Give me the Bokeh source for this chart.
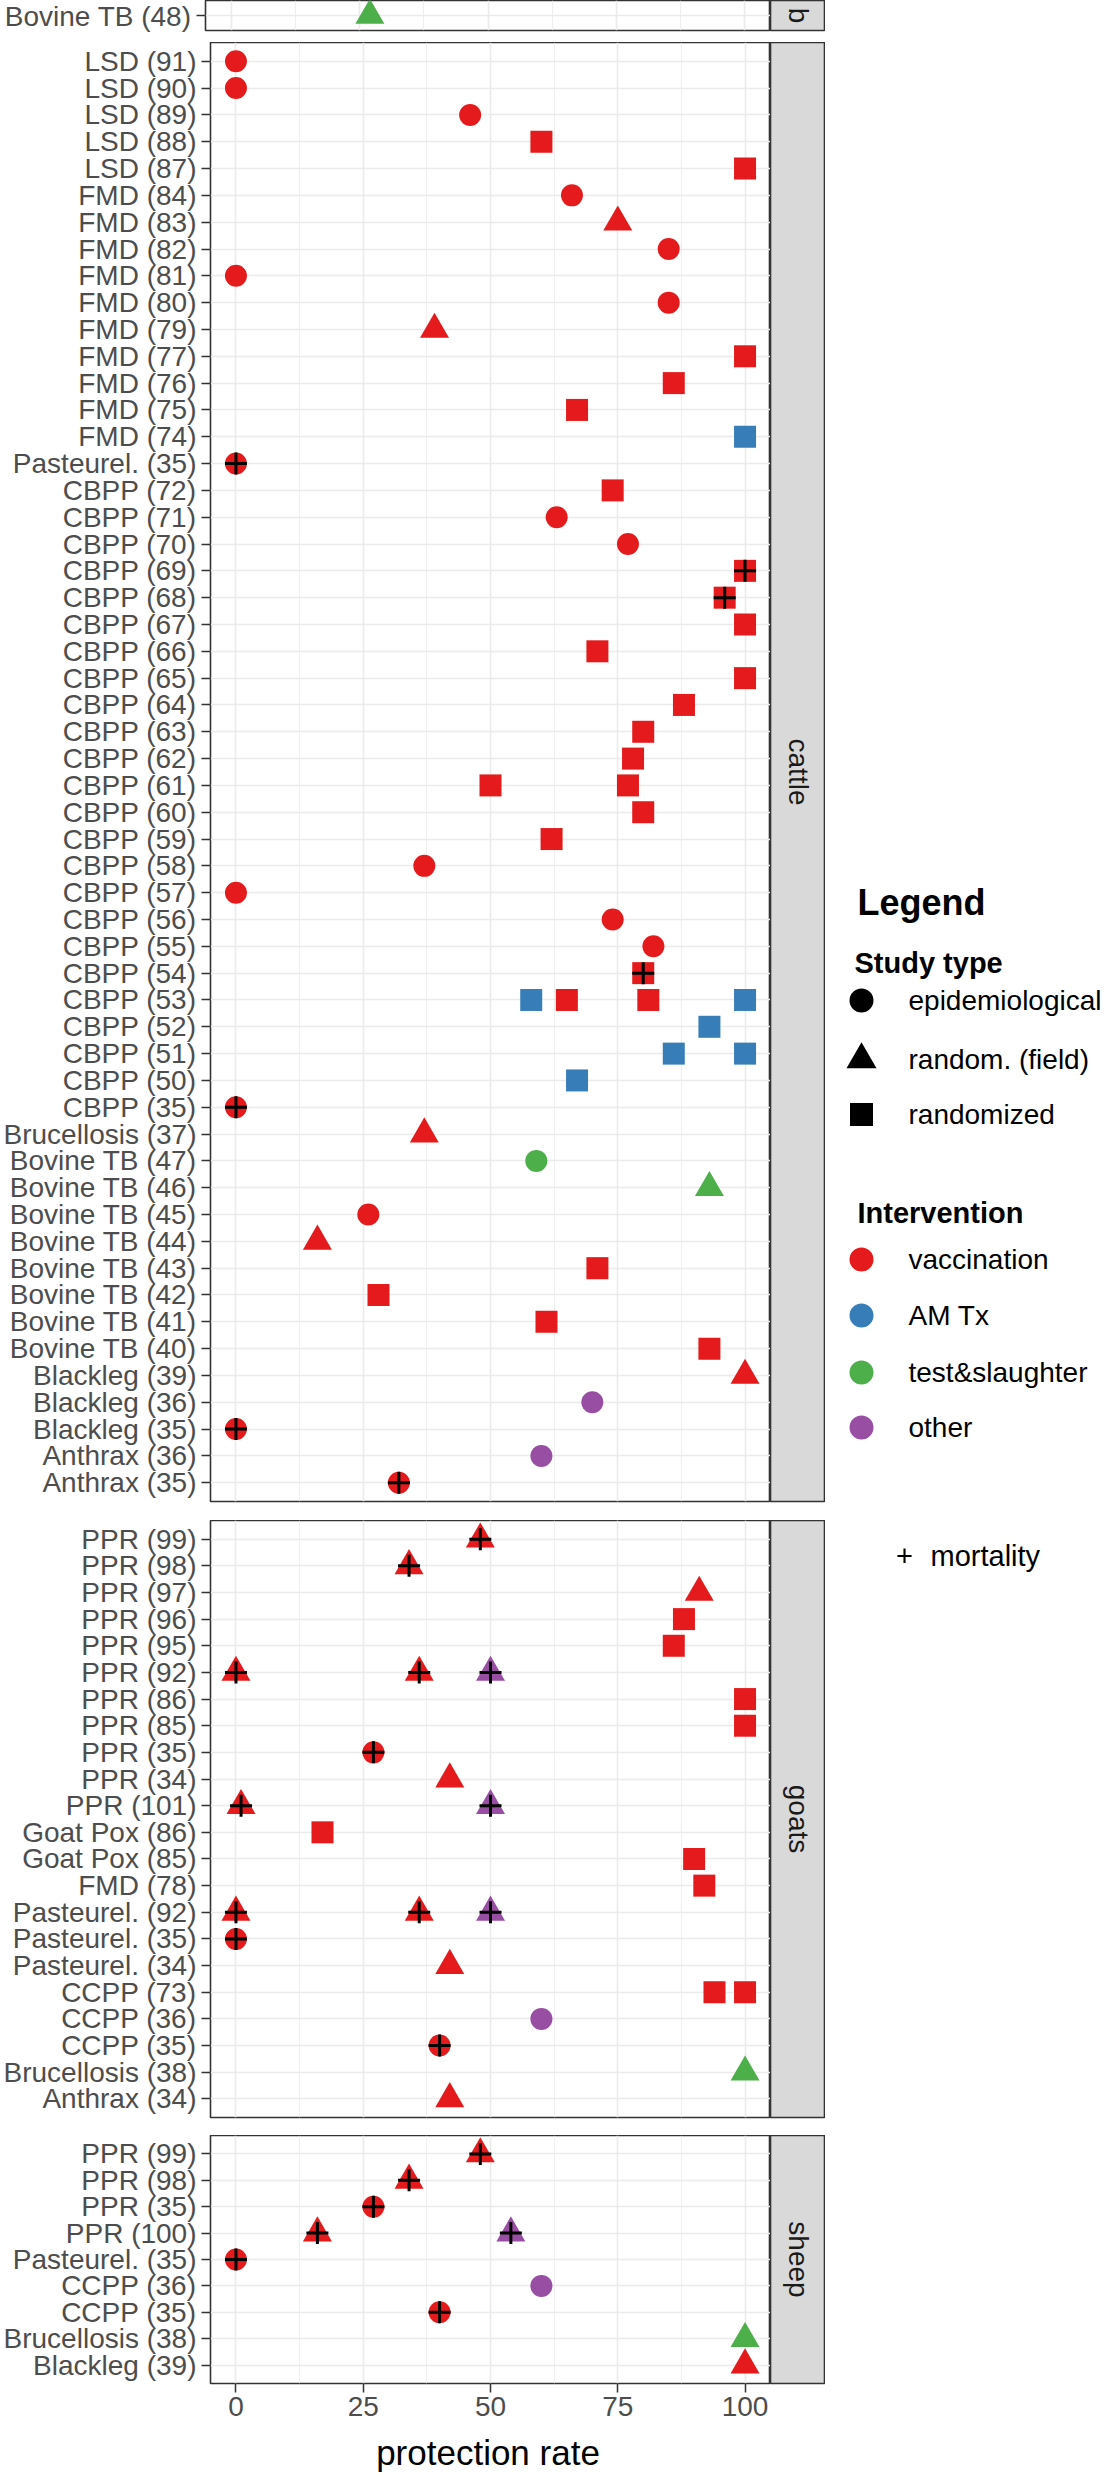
import math
from bokeh.plotting import figure
from bokeh.models import ColumnDataSource, FactorRange, Range1d, FixedTicker, Grid
from bokeh.layouts import row, column
from bokeh.embed import file_html
from bokeh.resources import INLINE
from bokeh.core.properties import value

# ---------------- data ----------------
# study type codes: E = epidemiological, F = random. (field), R = randomized
# intervention codes: V = vaccination, A = AM Tx, T = test&slaughter, O = other
study_names = ["epidemiological", "random. (field)", "randomized"]
study_codes = ["E", "F", "R"]
interv_names = ["vaccination", "AM Tx", "test&slaughter", "other"]
interv_codes = ["V", "A", "T", "O"]

x_ticks = [0, 25, 50, 75, 100]
x_minor = [12.5, 37.5, 62.5, 87.5]
x_title = "protection rate"

b_labels = ["Bovine TB (48)"]
b_pt_label = ["Bovine TB (48)"]
b_pt_rate = [27]
b_pt_study = ["F"]
b_pt_interv = ["T"]
b_pt_mort = [0]

cattle_labels = [
    "LSD (91)", "LSD (90)", "LSD (89)", "LSD (88)", "LSD (87)",
    "FMD (84)", "FMD (83)", "FMD (82)", "FMD (81)", "FMD (80)", "FMD (79)",
    "FMD (77)", "FMD (76)", "FMD (75)", "FMD (74)",
    "Pasteurel. (35)",
    "CBPP (72)", "CBPP (71)", "CBPP (70)", "CBPP (69)", "CBPP (68)", "CBPP (67)",
    "CBPP (66)", "CBPP (65)", "CBPP (64)", "CBPP (63)", "CBPP (62)", "CBPP (61)",
    "CBPP (60)", "CBPP (59)", "CBPP (58)", "CBPP (57)", "CBPP (56)", "CBPP (55)",
    "CBPP (54)", "CBPP (53)", "CBPP (52)", "CBPP (51)", "CBPP (50)", "CBPP (35)",
    "Brucellosis (37)",
    "Bovine TB (47)", "Bovine TB (46)", "Bovine TB (45)", "Bovine TB (44)",
    "Bovine TB (43)", "Bovine TB (42)", "Bovine TB (41)", "Bovine TB (40)",
    "Blackleg (39)", "Blackleg (36)", "Blackleg (35)",
    "Anthrax (36)", "Anthrax (35)",
]
cattle_pt_label = [
    "LSD (91)", "LSD (90)", "LSD (89)", "LSD (88)", "LSD (87)",
    "FMD (84)", "FMD (83)", "FMD (82)", "FMD (81)", "FMD (80)", "FMD (79)",
    "FMD (77)", "FMD (76)", "FMD (75)", "FMD (74)",
    "Pasteurel. (35)",
    "CBPP (72)", "CBPP (71)", "CBPP (70)", "CBPP (69)", "CBPP (68)", "CBPP (67)",
    "CBPP (66)", "CBPP (65)", "CBPP (64)", "CBPP (63)", "CBPP (62)",
    "CBPP (61)", "CBPP (61)",
    "CBPP (60)", "CBPP (59)", "CBPP (58)", "CBPP (57)", "CBPP (56)", "CBPP (55)",
    "CBPP (54)",
    "CBPP (53)", "CBPP (53)", "CBPP (53)", "CBPP (53)",
    "CBPP (52)", "CBPP (51)", "CBPP (51)", "CBPP (50)", "CBPP (35)",
    "Brucellosis (37)",
    "Bovine TB (47)", "Bovine TB (46)", "Bovine TB (45)", "Bovine TB (44)",
    "Bovine TB (43)", "Bovine TB (42)", "Bovine TB (41)", "Bovine TB (40)",
    "Blackleg (39)", "Blackleg (36)", "Blackleg (35)",
    "Anthrax (36)", "Anthrax (35)",
]
cattle_pt_rate = [
    0, 0, 46, 60, 100,
    66, 75, 85, 0, 85, 39, 100, 86, 67, 100,
    0,
    74, 63, 77, 100, 96, 100, 71, 100, 88, 80, 78,
    50, 77,
    80, 62, 37, 0, 74, 82,
    80,
    58, 65, 81, 100,
    93, 86, 100, 67, 0,
    37,
    59, 93, 26, 16, 71, 28, 61, 93,
    100, 70, 0,
    60, 32,
]
cattle_pt_study = [
    "E", "E", "E", "R", "R",
    "E", "F", "E", "E", "E", "F", "R", "R", "R", "R",
    "E",
    "R", "E", "E", "R", "R", "R", "R", "R", "R", "R", "R",
    "R", "R",
    "R", "R", "E", "E", "E", "E",
    "R",
    "R", "R", "R", "R",
    "R", "R", "R", "R", "E",
    "F",
    "E", "F", "E", "F", "R", "R", "R", "R",
    "F", "E", "E",
    "E", "E",
]
cattle_pt_interv = [
    "V", "V", "V", "V", "V",
    "V", "V", "V", "V", "V", "V", "V", "V", "V", "A",
    "V",
    "V", "V", "V", "V", "V", "V", "V", "V", "V", "V", "V",
    "V", "V",
    "V", "V", "V", "V", "V", "V",
    "V",
    "A", "V", "V", "A",
    "A", "A", "A", "A", "V",
    "V",
    "T", "T", "V", "V", "V", "V", "V", "V",
    "V", "O", "V",
    "O", "V",
]
cattle_pt_mort = [
    0, 0, 0, 0, 0,
    0, 0, 0, 0, 0, 0, 0, 0, 0, 0,
    1,
    0, 0, 0, 1, 1, 0, 0, 0, 0, 0, 0,
    0, 0,
    0, 0, 0, 0, 0, 0,
    1,
    0, 0, 0, 0,
    0, 0, 0, 0, 1,
    0,
    0, 0, 0, 0, 0, 0, 0, 0,
    0, 0, 1,
    0, 1,
]

goats_labels = [
    "PPR (99)", "PPR (98)", "PPR (97)", "PPR (96)", "PPR (95)", "PPR (92)",
    "PPR (86)", "PPR (85)", "PPR (35)", "PPR (34)", "PPR (101)",
    "Goat Pox (86)", "Goat Pox (85)", "FMD (78)",
    "Pasteurel. (92)", "Pasteurel. (35)", "Pasteurel. (34)",
    "CCPP (73)", "CCPP (36)", "CCPP (35)", "Brucellosis (38)", "Anthrax (34)",
]
goats_pt_label = [
    "PPR (99)", "PPR (98)", "PPR (97)", "PPR (96)", "PPR (95)",
    "PPR (92)", "PPR (92)", "PPR (92)",
    "PPR (86)", "PPR (85)", "PPR (35)", "PPR (34)",
    "PPR (101)", "PPR (101)",
    "Goat Pox (86)", "Goat Pox (85)", "FMD (78)",
    "Pasteurel. (92)", "Pasteurel. (92)", "Pasteurel. (92)",
    "Pasteurel. (35)", "Pasteurel. (34)",
    "CCPP (73)", "CCPP (73)", "CCPP (36)", "CCPP (35)",
    "Brucellosis (38)", "Anthrax (34)",
]
goats_pt_rate = [
    48, 34, 91, 88, 86,
    0, 36, 50,
    100, 100, 27, 42,
    1, 50,
    17, 90, 92,
    0, 36, 50,
    0, 42,
    94, 100, 60, 40,
    100, 42,
]
goats_pt_study = [
    "F", "F", "F", "R", "R",
    "F", "F", "F",
    "R", "R", "E", "F",
    "F", "F",
    "R", "R", "R",
    "F", "F", "F",
    "E", "F",
    "R", "R", "E", "E",
    "F", "F",
]
goats_pt_interv = [
    "V", "V", "V", "V", "V",
    "V", "V", "O",
    "V", "V", "V", "V",
    "V", "O",
    "V", "V", "V",
    "V", "V", "O",
    "V", "V",
    "V", "V", "O", "V",
    "T", "V",
]
goats_pt_mort = [
    1, 1, 0, 0, 0,
    1, 1, 1,
    0, 0, 1, 0,
    1, 1,
    0, 0, 0,
    1, 1, 1,
    1, 0,
    0, 0, 0, 1,
    0, 0,
]

sheep_labels = [
    "PPR (99)", "PPR (98)", "PPR (35)", "PPR (100)", "Pasteurel. (35)",
    "CCPP (36)", "CCPP (35)", "Brucellosis (38)", "Blackleg (39)",
]
sheep_pt_label = [
    "PPR (99)", "PPR (98)", "PPR (35)", "PPR (100)", "PPR (100)",
    "Pasteurel. (35)", "CCPP (36)", "CCPP (35)", "Brucellosis (38)", "Blackleg (39)",
]
sheep_pt_rate = [48, 34, 27, 16, 54, 0, 60, 40, 100, 100]
sheep_pt_study = ["F", "F", "E", "F", "F", "E", "E", "E", "F", "F"]
sheep_pt_interv = ["V", "V", "V", "V", "O", "V", "O", "V", "T", "V"]
sheep_pt_mort = [1, 1, 1, 1, 1, 1, 0, 1, 0, 0]

# ---------------- styles ----------------
FONT = "Liberation Sans"
marker_of = {"E": "circle", "F": "triangle", "R": "square"}
size_of = {"E": 22, "F": 29, "R": 22}
color_of = {"V": "#E41A1C", "A": "#377EB8", "T": "#4DAF4A", "O": "#984EA3"}
GRID = "#EBEBEB"
BORDER = "#333333"

LEFT = 205
FRAME_W = 565
STRIP_W = 55


def make_panel(name, labels, pl, pr, ps, pi, pm, frame_h, bottom, xaxis):
    yr = FactorRange(factors=list(reversed(labels)), range_padding=0.2,
                     range_padding_units="absolute")
    p = figure(width=LEFT + FRAME_W, height=frame_h + bottom,
               x_range=Range1d(-5, 105), y_range=yr,
               x_axis_location="below" if xaxis else None,
               output_backend="svg", toolbar_location=None, tools="",
               min_border_left=LEFT, min_border_right=0,
               min_border_top=0, min_border_bottom=bottom)
    p.background_fill_color = "white"
    p.border_fill_color = "white"
    p.outline_line_color = BORDER
    p.outline_line_width = 1.6

    p.xgrid.visible = False
    xg = Grid(dimension=0, ticker=FixedTicker(ticks=x_ticks, minor_ticks=x_minor),
              grid_line_color=GRID, grid_line_width=1.6,
              minor_grid_line_color=GRID, minor_grid_line_width=0.8)
    p.add_layout(xg)
    p.ygrid.grid_line_color = GRID
    p.ygrid.grid_line_width = 1.6

    ya = p.yaxis[0]
    ya.axis_line_color = None
    ya.major_tick_line_color = BORDER
    ya.major_tick_line_width = 1.5
    ya.major_tick_out = 9
    ya.major_tick_in = 0
    ya.major_label_standoff = 5
    ya.major_label_text_font = FONT
    ya.major_label_text_font_size = "28px"
    ya.major_label_text_color = "#4D4D4D"

    if xaxis:
        xa = p.xaxis[0]
        xa.ticker = FixedTicker(ticks=x_ticks, minor_ticks=[])
        xa.axis_line_color = None
        xa.major_tick_line_color = BORDER
        xa.major_tick_line_width = 1.5
        xa.major_tick_out = 9
        xa.major_tick_in = 0
        xa.minor_tick_line_color = None
        xa.major_label_standoff = 4
        xa.major_label_text_font = FONT
        xa.major_label_text_font_size = "28px"
        xa.major_label_text_color = "#4D4D4D"

    src = ColumnDataSource(dict(
        x=pr, y=pl,
        marker=[marker_of[s] for s in ps],
        size=[size_of[s] for s in ps],
        color=[color_of[i] for i in pi],
    ))
    p.scatter(x="x", y="y", marker="marker", size="size", fill_color="color",
              line_color=None, source=src)
    mx = [r for r, m in zip(pr, pm) if m]
    my = [l for l, m in zip(pl, pm) if m]
    msrc = ColumnDataSource(dict(x=mx, y=my))
    p.scatter(x="x", y="y", marker="cross", size=22, line_color="black",
              line_width=3, source=msrc)

    s = figure(width=STRIP_W, height=frame_h + bottom,
               x_range=Range1d(0, 1), y_range=Range1d(0, 1),
               x_axis_location=None, y_axis_location=None,
               output_backend="svg", toolbar_location=None, tools="",
               min_border_left=0, min_border_right=0,
               min_border_top=0, min_border_bottom=bottom)
    s.grid.visible = False
    s.background_fill_color = "#D9D9D9"
    s.border_fill_color = "white"
    s.outline_line_color = BORDER
    s.outline_line_width = 1.6
    s.text(x=[0.5], y=[0.5], text=[name], angle=-math.pi / 2,
           text_align="center", text_baseline="middle",
           text_font=value(FONT), text_font_size="28px", text_color="#1A1A1A")
    return row(p, s)


r_b = make_panel("b", b_labels, b_pt_label, b_pt_rate, b_pt_study, b_pt_interv,
                 b_pt_mort, 30, 12, False)
r_c = make_panel("cattle", cattle_labels, cattle_pt_label, cattle_pt_rate,
                 cattle_pt_study, cattle_pt_interv, cattle_pt_mort, 1459, 19, False)
r_g = make_panel("goats", goats_labels, goats_pt_label, goats_pt_rate,
                 goats_pt_study, goats_pt_interv, goats_pt_mort, 597, 18, False)
r_s = make_panel("sheep", sheep_labels, sheep_pt_label, sheep_pt_rate,
                 sheep_pt_study, sheep_pt_interv, sheep_pt_mort, 248, 47, True)

# x-axis title, centred under the panels
TH = 42
t = figure(width=LEFT + FRAME_W, height=TH, x_range=Range1d(-5, 105),
           y_range=Range1d(0, TH), x_axis_location=None, y_axis_location=None,
           output_backend="svg", toolbar_location=None, tools="",
           min_border_left=LEFT, min_border_right=0, min_border_top=0,
           min_border_bottom=0)
t.grid.visible = False
t.outline_line_color = None
t.text(x=[50], y=[20], text=[x_title], text_align="center",
       text_baseline="middle", text_font=value(FONT), text_font_size="35px",
       text_color="black")

# ---------------- legend ----------------
LW, LH = 280, 1600
lg = figure(width=LW, height=LH, x_range=Range1d(0, LW), y_range=Range1d(LH, 0),
            x_axis_location=None, y_axis_location=None,
            output_backend="svg", toolbar_location=None, tools="",
            min_border_left=0, min_border_right=0, min_border_top=0, min_border_bottom=0)
lg.grid.visible = False
lg.outline_line_color = None
lg.background_fill_color = "white"
lg.border_fill_color = "white"

key_x = 36
txt_x = 83
study_y = [1000, 1059, 1114]
interv_y = [1259, 1315, 1372, 1427]

lg.text(x=[32], y=[902], text=["Legend"], text_font=value(FONT),
        text_font_size="36px", text_font_style="bold", text_color="black",
        text_baseline="middle", text_align="left")
lg.text(x=[29, 32], y=[962, 1212], text=["Study type", "Intervention"],
        text_font=value(FONT), text_font_size="29px", text_font_style="bold",
        text_color="black", text_baseline="middle", text_align="left")
lg.scatter(x=[key_x] * 3, y=study_y,
           marker=[marker_of[c] for c in study_codes],
           size=[24, 30, 23], fill_color="black", line_color=None)
lg.text(x=[txt_x] * 3, y=study_y, text=study_names, text_font=value(FONT),
        text_font_size="28px", text_color="black", text_baseline="middle",
        text_align="left")
lg.scatter(x=[key_x] * 4, y=interv_y, marker="circle", size=24,
           fill_color=[color_of[c] for c in interv_codes], line_color=None)
lg.text(x=[txt_x] * 4, y=interv_y, text=interv_names, text_font=value(FONT),
        text_font_size="28px", text_color="black", text_baseline="middle",
        text_align="left")
lg.text(x=[79], y=[1555], text=["+"], text_font=value(FONT),
        text_font_size="29px", text_color="black", text_baseline="middle",
        text_align="center")
lg.text(x=[105], y=[1555], text=["mortality"], text_font=value(FONT),
        text_font_size="29px", text_color="black", text_baseline="middle",
        text_align="left")

layout = row(column(r_b, r_c, r_g, r_s, t), lg)

open("out.html", "w").write(file_html(layout, INLINE))
